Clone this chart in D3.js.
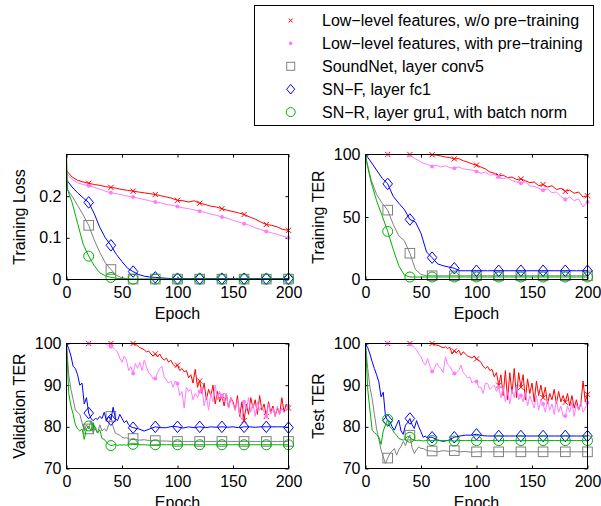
<!DOCTYPE html>
<html>
<head>
<meta charset="utf-8">
<script src="https://cdn.jsdelivr.net/npm/d3@7"></script>
<style>
  body { margin: 0; background: #fff; }
  svg { display: block; font-family: "Liberation Sans", Arial, sans-serif; }
</style>
</head>
<body>
<svg width="601" height="506"></svg>
<script>
// epoch grids the curves were sampled on
const epochsA = [0, 1].concat(d3.range(5, 201, 5));          // 42 points
const epochsB = d3.range(0, 60, 2).concat(d3.range(60, 201, 5)); // 59 points
const epochs2 = d3.range(0, 201, 2);                           // 101 points
const epochs4 = d3.range(0, 201, 4);                           // 51 points

const seriesNames = [
  'Low\u2212level features, w/o pre\u2212training',
  'Low\u2212level features, with pre\u2212training',
  'SoundNet, layer conv5',
  'SN\u2212F, layer fc1',
  'SN\u2212R, layer gru1, with batch norm'
];
const seriesColors = ['#ff0000', '#ff7cff', '#808080', '#0000ff', '#00b000'];
const seriesMarks = ['x', 'dot', 'square', 'diamond', 'circle'];

const xTicks = [0, 50, 100, 150, 200];

// ---- Training loss (epochsA)
const lossRed = [0.262, 0.258, 0.246, 0.238, 0.234, 0.231, 0.228, 0.226, 0.223, 0.221, 0.219, 0.216, 0.214, 0.212,
  0.21, 0.208, 0.206, 0.204, 0.201, 0.198, 0.195, 0.19, 0.189, 0.186, 0.189, 0.183, 0.18, 0.176, 0.174, 0.17,
  0.166, 0.163, 0.16, 0.156, 0.15, 0.145, 0.138, 0.132, 0.13, 0.126, 0.12, 0.118];
const lossPink = [0.255, 0.251, 0.24, 0.232, 0.228, 0.225, 0.221, 0.217, 0.212, 0.208, 0.206, 0.203, 0.2, 0.198,
  0.195, 0.192, 0.189, 0.186, 0.184, 0.18, 0.178, 0.175, 0.172, 0.17, 0.167, 0.164, 0.161, 0.157, 0.154, 0.15,
  0.147, 0.142, 0.138, 0.134, 0.13, 0.124, 0.12, 0.115, 0.112, 0.108, 0.104, 0.1];
const lossGray = [0.22, 0.215, 0.2, 0.178, 0.155, 0.13, 0.095, 0.065, 0.04, 0.024, 0.01, 0.004, 0.002,
  0.001, 0.001, 0.001, 0.001, 0.001, 0.001, 0.001, 0.001, 0.001, 0.001,
  0.001, 0.001, 0.001, 0.001, 0.001, 0.001, 0.001, 0.001, 0.001, 0.001,
  0.001, 0.001, 0.001, 0.001, 0.001, 0.001, 0.001, 0.001, 0.001];
const lossBlue = [0.24, 0.236, 0.222, 0.208, 0.196, 0.185, 0.158, 0.125, 0.1, 0.082, 0.06, 0.043, 0.027, 0.019,
  0.012, 0.008, 0.006, 0.005, 0.004, 0.003,
  0.002, 0.002, 0.002, 0.002, 0.002, 0.002, 0.002, 0.002, 0.002, 0.002, 0.002,
  0.002, 0.002, 0.002, 0.002, 0.002, 0.002, 0.002, 0.002, 0.002, 0.002, 0.002];
const lossGreen = [0.3, 0.215, 0.185, 0.135, 0.085, 0.056, 0.033, 0.016, 0.009, 0.005, 0.003, 0.002,
  0.001, 0.001, 0.001, 0.001, 0.001, 0.001, 0.001, 0.001, 0.001, 0.001,
  0.001, 0.001, 0.001, 0.001, 0.001, 0.001, 0.001, 0.001, 0.001, 0.001,
  0.001, 0.001, 0.001, 0.001, 0.001, 0.001, 0.001, 0.001, 0.001, 0.001];

// ---- Training TER
const terRed = [100, 100, 100, 100, 100, 100, 100, 100, 100, 100, 100, 100, 100, 100, 100,
  99.8, 99.5, 98.8, 98, 97.5, 96.5, 96.8, 95, 94, 92.5, 91.5, 90, 88.5, 86, 85, 83, 83.5, 81.5, 82, 80,
  80.5, 79, 77.5, 78, 75, 76, 74, 75, 72, 73, 70.5, 71.5, 69, 70, 66, 67];
const terPink = [100, 100, 100, 100, 100, 100, 100, 100, 100, 100,
  99.5, 97, 95, 93, 92, 90.5, 91.5, 90, 91, 89.5, 89, 90, 88.5, 88, 87.5, 86.5, 85, 86, 83.5, 84, 82,
  80.5, 81.5, 79, 78, 77, 78, 75, 74.5, 73, 71.5, 72.5, 69.5, 70, 66.5, 64, 66, 63, 64.5, 58, 62];
const terGray = [100, 95, 80, 68, 61, 55.5, 44, 35, 31, 21, 8, 4, 3,
  3, 3, 3, 3, 3, 3, 3, 3, 3, 3, 3, 3, 3, 3, 3, 3, 3, 3, 3, 3, 3, 3, 3, 3, 3, 3, 3, 3, 3];
const terBlue = [100, 99, 94, 87.5, 81, 76.5, 66.5, 61, 56, 48, 46, 37, 22, 17.5, 12.5, 11, 10, 9, 7,
  7, 7, 7, 7, 7, 7, 7, 7, 7, 7, 7, 7, 7, 7, 7, 7, 7, 7, 7, 7, 7, 7, 7];
const terGreen = [100, 94, 78, 63, 51, 38.5, 24, 11, 3.5, 2,
  2, 2, 2, 2, 2, 2, 2, 2, 2, 2, 2, 2, 2, 2, 2, 2, 2, 2, 2, 2, 2, 2, 2, 2, 2, 2, 2, 2, 2, 2, 2, 2];

// ---- Validation TER
const valRed = [100, 100, 100, 100, 100, 100, 100, 100, 100, 100, 100, 100, 100, 100, 100,
  100, 100, 100, 100, 100, 100, 100, 100, 100, 100, 100, 100, 100, 100, 100,
  100, 99.8, 99.5, 99, 98.8, 98.5, 98, 98.2, 97.5, 97, 97.5, 96.8, 97.5, 96.5, 96, 96.5, 95.5, 96, 95, 94.5,
  94.8, 93.5, 94, 93.2, 93.5, 91.8, 92.5, 90.5, 93.8, 89.5,
  91, 88, 90.5, 86.5, 89, 87.5, 90, 85.5, 88.5, 86,
  87.5, 85, 88, 84.5, 87, 86, 84, 87.5, 82.5, 86,
  81.5, 85.5, 83, 87, 84.5, 86.5, 83, 87.5, 84, 85.5,
  82.5, 86, 83.5, 85, 82.5, 84.5, 83, 87, 83.5, 85.5,
  84.5];
const valPink = [100, 100, 100, 100, 100, 100, 100, 100, 100, 100, 100, 100, 100, 100, 100, 100, 100, 100,
  99.8, 99.5, 99.2, 99, 98.5, 98, 96.5, 95.5, 97, 96,
  93.5, 94.5, 92.8, 95.2, 94, 95.5, 93.5, 96, 94.5, 93,
  92.5, 91.5, 91.6, 93, 94, 94.5, 92, 91.2, 90.5, 91,
  89.5, 91, 90.4, 87.5, 88.5, 84.5, 89.5, 88.5, 89, 86.5,
  88, 87, 88.5, 89.5, 85, 87.5, 84, 88, 86, 90,
  86.5, 88.5, 87.5, 86, 88, 84.5, 87, 85.5, 84, 86.5,
  83, 81.7, 86, 84, 87, 83.5, 85.5, 82.5, 86, 84,
  85, 83.5, 82.5, 85.5, 83, 84.5, 82.5, 85, 83, 84.5,
  83.5, 84, 85];
const valGray = [100, 92.5, 89, 86.5, 84, 83.5, 83, 81, 79, 80.5,
  79.5, 81.5, 78.5, 80, 78.5, 80.5, 79, 79.5, 79, 80.5,
  82.5, 80, 78.5, 78.2, 78, 77.5, 77.3, 77.4, 77.1, 77,
  77.2, 76.8, 76.9, 76.7, 76.7, 76.6, 76.6, 76.5, 76.5,
  76.5, 76.5, 76.5, 76.5, 76.5, 76.5, 76.5, 76.5, 76.5, 76.5,
  76.5, 76.5, 76.5, 76.5, 76.5, 76.5, 76.5, 76.5, 76.5, 76.5];
const valBlue = [100, 98.8, 97, 94.5, 94, 92.5, 90, 90.5, 85.5, 87,
  83.3, 82, 81.5, 82, 81.8, 82.5, 82, 83.5, 81.5, 82.5,
  81.7, 84.7, 82, 81.5, 83, 82, 81, 81.5, 80.5, 80,
  79.8, 79.5, 79, 79.5, 80, 79.8, 79.8, 80.1, 80, 79.7, 80, 79.8, 80, 79.8, 80,
  79.9, 80, 79.9, 80, 79.8, 80, 80, 79.9, 80, 80, 80, 80, 80, 79.8];
const valGreen = [100, 88, 85, 83, 80.5, 79.5, 79, 79.5, 77, 79.5,
  80.2, 79, 81, 79.5, 78.5, 79.3, 77.2, 77, 76.3, 75.8,
  75.5, 75.6, 75.8, 75.5, 75.7, 75.6, 75.7, 75.6, 75.7, 75.7,
  75.8, 75.7, 75.7, 75.6, 75.7, 75.7, 75.7, 75.7, 75.7, 75.7,
  75.7, 75.7, 75.7, 75.7, 75.7, 75.7, 75.7, 75.7, 75.7, 75.7,
  75.7, 75.7, 75.7, 75.7, 75.7, 75.7, 75.7, 75.7, 75.7];

// ---- Test TER
const testRed = [100, 100, 100, 100, 100, 100, 100, 100, 100, 100, 100, 100, 100, 100, 100,
  100, 100, 100, 100, 100, 100, 100, 100, 100, 100, 100, 100, 100, 100, 100,
  100, 99.8, 99.6, 99.5, 99.2, 99, 99.2, 98.8, 99.1, 97.5,
  98.2, 97.8, 98.4, 97.2, 98, 97.5, 97, 96.8, 96.5, 97,
  96.3, 96, 95.5, 94.5, 94, 94.5, 93.5, 93.8, 92, 93,
  90, 92.5, 87.5, 93.5, 86.5, 93, 88, 94, 87, 93,
  89.5, 92.5, 86.5, 91.5, 88, 90.5, 86, 91, 87.5, 90,
  87, 89.5, 85.5, 88, 86.5, 89, 85.5, 88.5, 86, 87.5,
  85.9, 88, 85, 87.5, 84.5, 86.5, 84, 85.5, 91, 86,
  87.8];
const testPink = [100, 100, 100, 100, 100, 100, 100, 100, 100, 100,
  100, 100, 100, 100, 100, 100, 100, 100, 100, 100,
  99.8, 99.5, 99, 98.5, 97.5, 96.8, 95.5, 94.8, 96.4, 94.5,
  93.3, 94, 95.3, 94.5, 94, 93, 96.8, 95, 94.5, 93.5,
  92.8, 93, 93.5, 94.8, 93, 92.5, 91.7, 92, 90.5, 90.9,
  90.9, 89.5, 89.5, 88, 90.5, 90.4, 89, 89.5, 90, 88.5,
  89.5, 87, 89.5, 86, 88.5, 85.5, 89, 87, 90, 86.5,
  87.5, 86, 88.5, 85, 87.5, 86, 84.5, 87.5, 84, 86.5,
  85.5, 83.5, 86.5, 84, 85.5, 83, 86.5, 83.5, 85, 82.5,
  82.6, 85, 83.5, 86, 82.5, 85.5, 84, 86, 83.5, 84.5,
  85.8];
const testGray = [100, 94, 89.5, 86.8, 83, 79.5, 77, 74.5, 72.8, 71.2,
  72.5, 73.6, 74.2, 74.8, 73.2, 74.5, 75.3, 76.5, 75.5, 77,
  78, 75, 73.6, 74.5, 75.2, 74.8, 74.8, 74.5, 74.3, 74.2,
  74.2, 74, 74.3, 74.1, 74.3, 74, 74.1, 73.9, 74,
  74, 74, 74, 74, 74, 74, 74, 74, 74, 74,
  74, 74, 74, 74, 74, 74, 74, 74, 74, 74];
const testBlue = [100, 99, 97.5, 95.6, 94, 92.5, 90.8, 87.2, 88.3, 82.5,
  81.5, 81.3, 80, 79.2, 80.5, 81.6, 79, 78.2, 80.4, 81,
  82, 80.5, 79.6, 81.5, 80, 78.8, 77.5, 77.8, 77.2, 77.5,
  77.5, 76.8, 76.5, 76.8, 77.5, 77.8, 78, 78, 78.2, 77.9,
  77.8, 77.8, 77.8, 77.8, 77.8, 77.8, 77.8, 77.8, 77.8, 77.8,
  77.8, 77.8, 77.8, 77.8, 77.8, 77.8, 77.8, 77.8, 77.8];
const testGreen = [100, 89, 84, 79.2, 78.6, 78.2, 77.5, 75.8, 79, 80.5,
  81.8, 80, 79.5, 78.5, 78, 77.2, 77, 76.8, 77.2, 77.8,
  77.5, 77, 76.8, 76.7, 76.8, 76.7, 76.6, 76.7, 76.8, 76.7,
  76.7, 76.8, 76.7, 76.7, 76.6, 76.7, 76.7, 76.7, 76.7, 76.7,
  76.7, 76.7, 76.7, 76.7, 76.7, 76.7, 76.7, 76.7, 76.7, 76.7,
  76.7, 76.7, 76.7, 76.7, 76.7, 76.7, 76.7, 76.7, 76.7];

const panels = [
  { label: 'Training Loss', yDomain: [0, 0.3], yTicks: [0, 0.1, 0.2], left: 66, top: 154,
    series: [[epochsA, lossRed], [epochsA, lossPink], [epochsA, lossGray], [epochsA, lossBlue], [epochsA, lossGreen]] },
  { label: 'Training TER', yDomain: [0, 100], yTicks: [0, 50, 100], left: 365, top: 154,
    series: [[epochs4, terRed], [epochs4, terPink], [epochsA, terGray], [epochsA, terBlue], [epochsA, terGreen]] },
  { label: 'Validation TER', yDomain: [70, 100], yTicks: [70, 80, 90, 100], left: 66, top: 343,
    series: [[epochs2, valRed], [epochs2, valPink], [epochsB, valGray], [epochsB, valBlue], [epochsB, valGreen]] },
  { label: 'Test TER', yDomain: [70, 100], yTicks: [70, 80, 90, 100], left: 365, top: 343,
    series: [[epochs2, testRed], [epochs2, testPink], [epochsB, testGray], [epochsB, testBlue], [epochsB, testGreen]] }
];

const W = 222;
const H = 125;
const svg = d3.select('svg');

function drawMarker(sel, type, color, cx, cy, s) {
  if (type === 'x') {
    sel.append('path')
      .attr('d', `M${cx - s},${cy - s}L${cx + s},${cy + s}M${cx - s},${cy + s}L${cx + s},${cy - s}`)
      .attr('stroke', color).attr('stroke-width', 1).attr('fill', 'none');
  } else if (type === 'dot') {
    sel.append('circle').attr('cx', cx).attr('cy', cy).attr('r', s).attr('fill', color);
  } else if (type === 'square') {
    sel.append('rect').attr('x', cx - s).attr('y', cy - s).attr('width', 2 * s).attr('height', 2 * s)
      .attr('fill', 'none').attr('stroke', color).attr('stroke-width', 1);
  } else if (type === 'diamond') {
    const h = s * 1.2;
    sel.append('path')
      .attr('d', `M${cx},${cy - h}L${cx + s},${cy}L${cx},${cy + h}L${cx - s},${cy}Z`)
      .attr('fill', 'none').attr('stroke', color).attr('stroke-width', 1);
  } else {
    sel.append('circle').attr('cx', cx).attr('cy', cy).attr('r', s)
      .attr('fill', 'none').attr('stroke', color).attr('stroke-width', 1);
  }
}

const plotSize = { x: 2.6, dot: 2, square: 4.8, diamond: 4.8, circle: 5 };
const legendSize = { x: 2, dot: 1.8, square: 4, diamond: 4, circle: 4.5 };

panels.forEach(p => {
  const g = svg.append('g').attr('transform', `translate(${p.left + 0.5},${p.top + 0.5})`);
  const x = d3.scaleLinear().domain([0, 200]).range([0, W]);
  const y = d3.scaleLinear().domain(p.yDomain).range([H, 0]);

  const styleAxis = a => {
    a.select('.domain').remove();
    a.attr('font-size', 16).attr('font-family', null);
    a.selectAll('line').attr('stroke', '#000');
    a.selectAll('text').attr('fill', '#000');
  };

  g.append('g').attr('transform', `translate(0,${H})`)
    .call(d3.axisBottom(x).tickValues(xTicks).tickSizeInner(-3).tickSizeOuter(0).tickPadding(7.5))
    .call(styleAxis);
  g.append('g')
    .call(d3.axisTop(x).tickValues(xTicks).tickSizeInner(-3).tickSizeOuter(0).tickFormat(() => ''))
    .call(styleAxis);
  g.append('g')
    .call(d3.axisLeft(y).tickValues(p.yTicks).tickSizeInner(-3).tickSizeOuter(0).tickPadding(5)
      .tickFormat(d => String(d)))
    .call(styleAxis);
  g.append('g').attr('transform', `translate(${W},0)`)
    .call(d3.axisRight(y).tickValues(p.yTicks).tickSizeInner(-3).tickSizeOuter(0).tickFormat(() => ''))
    .call(styleAxis);

  const line = d3.line().x(d => x(d[0])).y(d => y(d[1]));

  p.series.forEach((s, i) => {
    const pts = s[0].map((e, j) => [e, s[1][j]]);
    g.append('path').datum(pts)
      .attr('d', line)
      .attr('fill', 'none')
      .attr('stroke', seriesColors[i])
      .attr('stroke-width', 1)
      .attr('stroke-linejoin', 'round');
    const mg = g.append('g');
    pts.filter(d => d[0] > 0 && d[0] % 20 === 0).forEach(d => {
      drawMarker(mg, seriesMarks[i], seriesColors[i], x(d[0]), y(d[1]), plotSize[seriesMarks[i]]);
    });
  });

  g.append('rect').attr('width', W).attr('height', H)
    .attr('fill', 'none').attr('stroke', '#000').attr('stroke-width', 1);

  g.append('text')
    .attr('x', W / 2).attr('y', H + 39)
    .attr('text-anchor', 'middle').attr('font-size', 16)
    .text('Epoch');

  g.append('text')
    .attr('transform', `translate(-42,${H / 2}) rotate(-90)`)
    .attr('text-anchor', 'middle').attr('font-size', 16)
    .text(p.label);
});

// legend
const lg = svg.append('g');
lg.append('rect').attr('x', 254.5).attr('y', 5.5).attr('width', 339).attr('height', 120)
  .attr('fill', '#fff').attr('stroke', '#000').attr('stroke-width', 1);
seriesNames.forEach((name, i) => {
  const cy = 20.5 + i * 22.9;
  drawMarker(lg, seriesMarks[i], seriesColors[i], 290.7, cy, legendSize[seriesMarks[i]]);
  lg.append('text').attr('x', 322).attr('y', cy + 5.5).attr('font-size', 16).text(name);
});
</script>
</body>
</html>
